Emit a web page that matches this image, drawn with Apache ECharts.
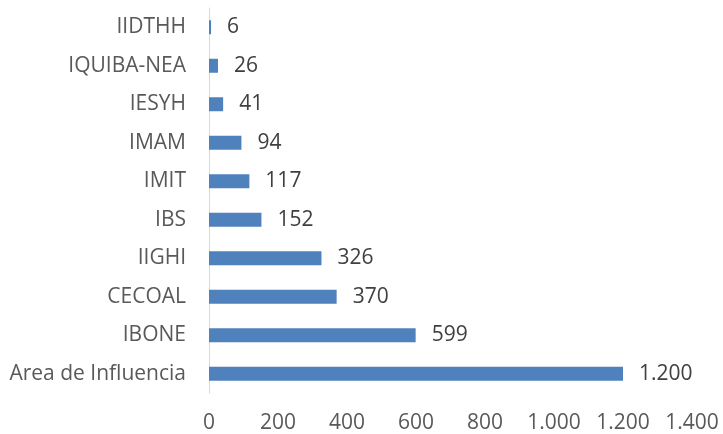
<!DOCTYPE html>
<html>
<head>
<meta charset="utf-8">
<script src="https://cdn.jsdelivr.net/npm/echarts@6/dist/echarts.min.js"></script>
<style>html,body{margin:0;padding:0;background:#fff;}#c{width:723px;height:434px;}</style>
</head>
<body>
<div id="c"></div>
<script>
const categories = ["Area de Influencia", "IBONE", "CECOAL", "IIGHI", "IBS", "IMIT", "IMAM", "IESYH", "IQUIBA-NEA", "IIDTHH"];
const values = [1200, 599, 370, 326, 152, 117, 94, 41, 26, 6];

function fmt(v) {
  return String(v).replace(/\B(?=(\d{3})+(?!\d))/g, ".");
}

const FONT = 'Open Sans';
const chart = echarts.init(document.getElementById('c'));
chart.setOption({
  animation: false,
  grid: { left: 209, right: 31, top: 8, bottom: 41, containLabel: false },
  xAxis: {
    type: 'value', min: 0, max: 1400, interval: 200,
    axisLine: { show: false }, axisTick: { show: false },
    splitLine: { show: false },
    axisLabel: { color: '#595959', fontSize: 21, fontFamily: FONT, margin: 20, formatter: fmt }
  },
  yAxis: {
    type: 'category', data: categories,
    axisLine: { show: true, lineStyle: { color: '#d9d9d9', width: 1 } },
    axisTick: { show: false },
    axisLabel: { color: '#595959', fontSize: 21, fontFamily: FONT, margin: 23 }
  },
  series: [{
    type: 'bar', data: values, barWidth: 14,
    itemStyle: { color: '#4f81bd' },
    label: { show: true, position: 'right', distance: 16, color: '#404040', fontSize: 21, fontFamily: FONT, formatter: p => fmt(p.value) }
  }]
});
</script>
</body>
</html>
